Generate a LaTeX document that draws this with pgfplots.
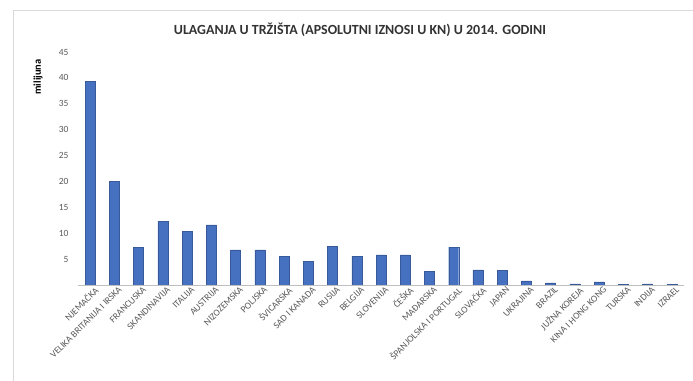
\documentclass[border=0pt]{standalone}
\usepackage{pgfplots}
\pgfplotsset{compat=1.18}
\usepackage{fontspec}
\setmainfont{Carlito}
\definecolor{barblue}{RGB}{70,112,192}
\definecolor{ticklab}{RGB}{89,89,89}
\begin{document}
\begin{tikzpicture}
\path[use as bounding box] (0,0) rectangle (693bp,381bp);
\draw[black!15] (13bp,0) -- (13bp,371bp) -- (693bp,371bp);
\node[font=\bfseries\fontsize{14}{15}\selectfont, text=black!80] at (360bp,351bp) {ULAGANJA U TRŽIŠTA (APSOLUTNI IZNOSI U KN) U 2014. GODINI};
\node[font=\bfseries\fontsize{10.5}{11}\selectfont, rotate=90] at (38bp,304bp) {milijuna};
\begin{axis}[
  at={(78bp,96bp)}, anchor=south west,
  scale only axis, width=606bp, height=233bp,
  xmin=-0.5, xmax=24.5, ymin=0, ymax=45,
  ytick={0,5,...,45},
  yticklabels={,5,10,15,20,25,30,35,40,45},
  axis x line*=bottom,
  axis y line*=left,
  y axis line style={draw=none},
  x axis line style={-, black!25},
  xtick=data,
  major tick length=0pt,
  xticklabels={NJEMAČKA,VELIKA BRITANIJA I IRSKA,FRANCUSKA,SKANDINAVIJA,ITALIJA,AUSTRIJA,NIZOZEMSKA,POLJSKA,ŠVICARSKA,SAD I KANADA,RUSIJA,BELGIJA,SLOVENIJA,ČEŠKA,MAĐARSKA,ŠPANJOLSKA I PORTUGAL,SLOVAČKA,JAPAN,UKRAJINA,BRAZIL,JUŽNA KOREJA,KINA I HONG KONG,TURSKA,INDIJA,IZRAEL},
  xticklabel style={rotate=45, anchor=north east, font=\fontsize{9.5}{10}\selectfont, text=ticklab, inner sep=1pt, xshift=3bp, yshift=-2bp},
  yticklabel style={font=\fontsize{9.5}{10}\selectfont, text=ticklab, xshift=-6bp},
  /pgf/number format/assume math mode=true,
]
\addplot[ybar, bar width=10bp, fill=barblue, draw=barblue!80!black] coordinates {
(0,39.3) (1,20.0) (2,7.3) (3,12.3) (4,10.4) (5,11.6) (6,6.8) (7,6.8) (8,5.6) (9,4.6)
(10,7.5) (11,5.6) (12,5.8) (13,5.8) (14,2.7) (15,7.3) (16,2.9) (17,2.8) (18,0.8) (19,0.4)
(20,0.2) (21,0.6) (22,0.1) (23,0.2) (24,0.1)
};
\end{axis}
\end{tikzpicture}
\end{document}
